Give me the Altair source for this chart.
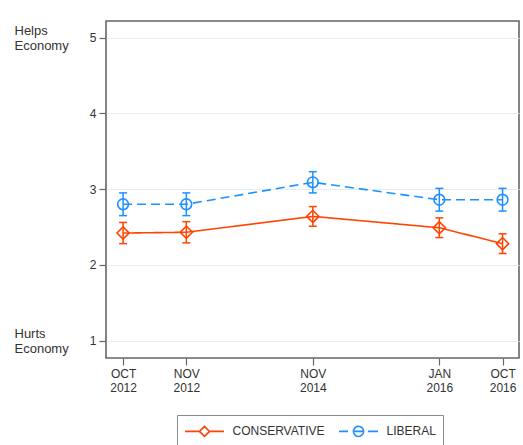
import math
import altair as alt
import pandas as pd

# Survey waves
months = ["OCT", "NOV", "NOV", "JAN", "OCT"]
years = ["2012", "2012", "2014", "2016", "2016"]
slots = [0, 1, 3, 5, 6]  # horizontal spacing of the waves

# Mean rating (1 = hurts economy, 5 = helps economy) and 95% CI half-width
conservative = [2.42, 2.43, 2.64, 2.49, 2.28]
conservative_err = [0.14, 0.14, 0.13, 0.13, 0.13]
liberal = [2.80, 2.80, 3.09, 2.86, 2.86]
liberal_err = [0.15, 0.15, 0.14, 0.15, 0.15]

groups = ["CONSERVATIVE", "LIBERAL"]
colors = ["#ff4500", "#1e90ff"]
y_ticks = [1, 2, 3, 4, 5]
end_labels = {5: ["Helps", "Economy"], 1: ["Hurts", "Economy"]}

FONT = "Liberation Sans"
CAP_HALF = 0.063  # half width of the CI caps, in x units

rows = []
for g, means, errs in [(groups[0], conservative, conservative_err),
                       (groups[1], liberal, liberal_err)]:
    for s, m, e in zip(slots, means, errs):
        rows.append({"slot": s, "group": g, "mean": m, "lo": m - e, "hi": m + e})
df = pd.DataFrame(rows)
caps = df.melt(id_vars=["slot", "group"], value_vars=["lo", "hi"],
               var_name="end", value_name="cap")


def js_list(items):
    return "[" + ",".join("'" + t + "'" for t in items) + "]"


x_label_expr = " : ".join(
    f"datum.value == {s} ? {js_list([m, y])}" for s, m, y in zip(slots, months, years)
) + " : ''"
end_label_expr = " : ".join(
    f"datum.value == {k} ? {js_list(v)}" for k, v in end_labels.items()
) + " : ''"

x_scale = alt.Scale(domain=[-0.27, 6.26], nice=False, zero=False)
y_scale = alt.Scale(domain=[0.77, 5.22], nice=False, zero=False)
color_scale = alt.Scale(domain=groups, range=colors)

x_axis = alt.Axis(values=slots, labelExpr=x_label_expr, title=None, grid=False,
                  orient="bottom", domain=False, tickSize=7, tickColor="#666",
                  tickWidth=1.2, labelPadding=3, labelFontSize=12,
                  labelColor="#333", labelLineHeight=14, labelBaseline="top",
                  labelFont=FONT)
y_axis = alt.Axis(values=y_ticks, format="d", title=None, orient="left",
                  domain=False, tickSize=7, tickColor="#666", tickWidth=1.2,
                  labelPadding=3, labelFontSize=12, labelColor="#333",
                  labelFont=FONT, grid=True, gridColor="#e4eef2", gridWidth=1.2)
end_axis = alt.Axis(values=list(end_labels.keys()), labelExpr=end_label_expr,
                    title=None, orient="left", domain=False, ticks=False,
                    tickSize=0, grid=False, labelAlign="left", labelPadding=92,
                    labelFontSize=13, labelColor="#333", labelFont=FONT,
                    labelLineHeight=15, labelBaseline="middle", labelOffset=-7)


# Legend keys: a line segment with its marker, as custom symbol paths
# (one path unit = 8 px at symbolSize 256)
def ring(r, n=24):
    pts = [(r * math.cos(2 * math.pi * i / n), r * math.sin(2 * math.pi * i / n))
           for i in range(n)]
    return "M" + "L".join(f"{x:.3f},{y:.3f}" for x, y in pts) + "Z"


key_paths = [
    "M-2.44,0L-0.63,0M0.63,0L2.44,0M-0.63,0L0,-0.63L0.63,0L0,0.63Z",
    "M-2.44,0L-1.31,0M1.19,0L2.44,0M-0.63,0L0.63,0" + ring(0.63),
]
key_legend = alt.Legend(title=None, orient="none", legendX=71, legendY=394,
                        direction="horizontal", strokeColor="#888", padding=7,
                        symbolSize=256, symbolStrokeWidth=1.6,
                        symbolFillColor="white", symbolOffset=11.5,
                        labelFontSize=12, labelColor="#333", labelFont=FONT,
                        labelOffset=19, columnPadding=10)

# Carries the legend only (no rows pass the filter); listed first so its
# legend settings take precedence over the layers that hide theirs
legend_layer = alt.Chart(df).transform_filter(
    "datum.slot < 0"
).mark_point(filled=False, fill="white", strokeWidth=1.6, opacity=1).encode(
    x=alt.X("slot:Q", scale=x_scale, axis=x_axis),
    y=alt.Y("mean:Q", scale=y_scale, axis=None),
    shape=alt.Shape("group:N", scale=alt.Scale(domain=groups, range=key_paths),
                    legend=key_legend),
    color=alt.Color("group:N", scale=color_scale, legend=key_legend),
)

color = alt.Color("group:N", scale=color_scale, legend=None)


def series_line(group, dash, with_axes):
    return alt.Chart(df).transform_filter(
        alt.datum.group == group
    ).mark_line(strokeWidth=1.6, strokeDash=dash).encode(
        x=alt.X("slot:Q", scale=x_scale, axis=x_axis),
        y=alt.Y("mean:Q", scale=y_scale, axis=y_axis if with_axes else None),
        color=color,
    )


line_cons = series_line(groups[0], [1, 0], True)
line_lib = series_line(groups[1], [9, 5], False)

stems = alt.Chart(df).mark_rule(strokeWidth=1.5).encode(
    x=alt.X("slot:Q", scale=x_scale, axis=x_axis),
    y=alt.Y("lo:Q", scale=y_scale, axis=end_axis),
    y2="hi:Q",
    color=color,
)

cap_rules = alt.Chart(caps).transform_calculate(
    cap_left=f"datum.slot - {CAP_HALF}", cap_right=f"datum.slot + {CAP_HALF}"
).mark_rule(strokeWidth=1.5).encode(
    x=alt.X("cap_left:Q", scale=x_scale, axis=x_axis),
    x2="cap_right:Q",
    y=alt.Y("cap:Q", scale=y_scale, axis=None),
    color=color,
)

diamonds = alt.Chart(df).transform_filter(
    alt.datum.group == groups[0]
).mark_point(shape="diamond", size=150, filled=False, strokeWidth=1.6, opacity=1).encode(
    x=alt.X("slot:Q", scale=x_scale, axis=x_axis),
    y=alt.Y("mean:Q", scale=y_scale, axis=None),
    color=color,
)

circles = alt.Chart(df).transform_filter(
    alt.datum.group == groups[1]
).mark_point(shape="circle", size=115, filled=False, strokeWidth=1.6, opacity=1).encode(
    x=alt.X("slot:Q", scale=x_scale, axis=x_axis),
    y=alt.Y("mean:Q", scale=y_scale, axis=None),
    color=color,
)

chart = alt.layer(
    legend_layer, line_cons, line_lib, stems, cap_rules, diamonds, circles
).resolve_axis(
    y="independent"
).properties(
    width=413,
    height=337,
    autosize=alt.AutoSizeParams(type="none"),
    padding={"left": 106, "top": 21, "right": 4, "bottom": 87},
).configure(
    font=FONT, background="white"
).configure_view(
    stroke="#666", strokeWidth=1.6
)

chart.save("out.html", embed_options={"renderer": "svg", "actions": False})
